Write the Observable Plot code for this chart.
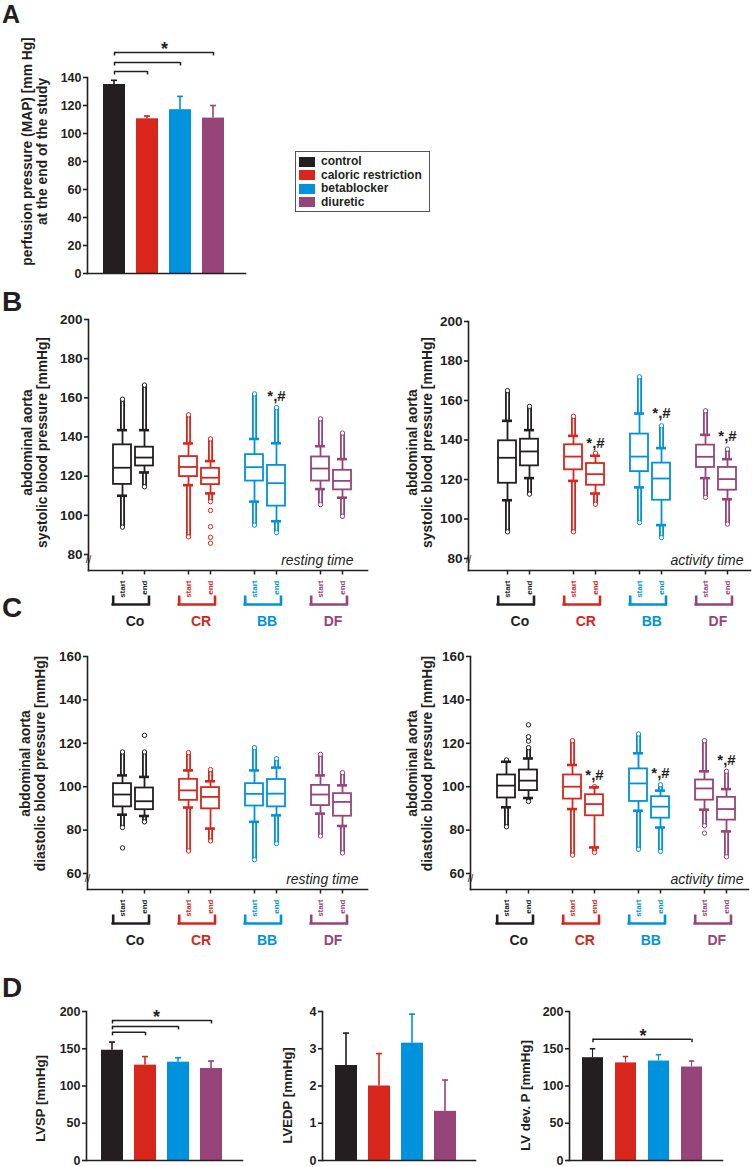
<!DOCTYPE html>
<html><head><meta charset="utf-8">
<script src="https://cdn.jsdelivr.net/npm/d3@7"></script>
<script src="https://cdn.jsdelivr.net/npm/@observablehq/plot@0.6"></script>
<style>
body{margin:0;background:#fff;}
#fig{position:relative;width:752px;height:1167px;overflow:hidden;font-family:"Liberation Sans",Arial,Helvetica,sans-serif;color:#231f20;}
.letter{position:absolute;font-weight:bold;line-height:1;}
#legend{position:absolute;left:295px;top:151px;width:133px;height:59px;border:1px solid #555;}
.lrow{position:absolute;left:3px;font-weight:bold;font-size:12px;line-height:1;white-space:nowrap;}
.lrow span.sw{display:inline-block;width:16px;height:10px;vertical-align:middle;margin-right:6px;}
</style></head><body><div id="fig"></div>
<script>
// ---------- data ----------
const groupNames = ["control", "caloric restriction", "betablocker", "diuretic"];
const groupAbbr = ["Co", "CR", "BB", "DF"];
const groupColors = ["#231f20", "#d9261c", "#0092dd", "#974478"];
const phases = ["start", "end"];

// Panel A: perfusion pressure (MAP) at end of study
const mapMean = [135, 110.5, 117, 111];
const mapSem = [3, 2, 9.5, 9];
const mapTicks = [0, 20, 40, 60, 80, 100, 120, 140];
const mapBrackets = [
  {to: "caloric restriction", level: 144.3},
  {to: "betablocker", level: 150.7},
  {to: "diuretic", level: 157.9}
];

// Box order: Co start, Co end, CR start, CR end, BB start, BB end, DF start, DF end
// Panel B left: systolic, resting time
const sysRest = {
  q3:  [136, 134.8, 130, 124, 131, 125.5, 129.8, 123],
  med: [124.3, 129.5, 124.7, 119.2, 124.6, 116.4, 123.9, 117.6],
  q1:  [115.8, 125.2, 119.8, 115.7, 117.5, 104.7, 117.5, 113],
  whi: [143.5, 143.5, 136.7, 127.7, 139, 136.8, 135.3, 128.7],
  wlo: [110, 121.9, 115.4, 111.2, 107, 97, 113.4, 109],
  ohi: [159.3, 166.5, 151.3, 139, 162, 155, 149.3, 142],
  olo: [94, 114.6, 89, 107, 95, 91.2, 105.5, 99.5]
};
const sysRestExtra = [{key: "CR end", v: 102.5}, {key: "CR end", v: 94.2}, {key: "CR end", v: 88.8}, {key: "CR end", v: 85.8}];
const sysRestNotes = [{key: "BB end", y: 158.6}];
// Panel B right: systolic, activity time
const sysAct = {
  q3:  [139.6, 140.4, 137.6, 128.1, 143, 128.3, 137.4, 126.1],
  med: [131, 134.2, 131.6, 122.7, 131.6, 120.5, 131.5, 120.2],
  q1:  [118.1, 126.9, 124.9, 117.1, 124, 109.5, 126.1, 114.6],
  whi: [149.7, 145, 142.1, 132, 153.4, 135.9, 142.6, 130.3],
  wlo: [109.5, 120.7, 119.3, 112.9, 116, 96.9, 120.7, 110],
  ohi: [165, 157, 152, 133.3, 172, 147.2, 154.8, 135.4],
  olo: [93.5, 112.6, 93.5, 107.5, 98.2, 90.6, 110.9, 97.4]
};
const sysActExtra = [];
const sysActNotes = [{key: "CR end", y: 136.2}, {key: "BB end", y: 150.9}, {key: "DF end", y: 139.7}];
// Panel C left: diastolic, resting time
const diaRest = {
  q3:  [101.4, 99.4, 103.4, 99.6, 101.4, 103.3, 100.6, 96.8],
  med: [96.4, 93.3, 98.3, 95.3, 96.7, 96.8, 96.4, 93],
  q1:  [90.7, 89.4, 93.7, 89.8, 91.1, 90.7, 91.3, 86.4],
  whi: [105.2, 104.5, 107.5, 102.5, 107.5, 108.8, 105.2, 100.6],
  wlo: [87.1, 86.5, 90.4, 80.7, 83.8, 86.8, 87.6, 81.9],
  ohi: [116, 116, 115.7, 107.9, 118, 112.9, 114.9, 106.5],
  olo: [81.2, 83.8, 70.4, 75, 66.4, 73.8, 77.3, 69.5]
};
const diaRestExtra = [{key: "Co start", v: 71.8}, {key: "Co end", v: 123.7}];
const diaRestNotes = [];
// Panel C right: diastolic, activity time
const diaAct = {
  q3:  [105.4, 107.7, 105.4, 96.3, 108.2, 95.4, 103.1, 95.1],
  med: [100.5, 102.8, 100, 92, 101.5, 90.8, 99.2, 89.7],
  q1:  [94.8, 98.2, 94.3, 86.6, 93.2, 85.5, 93.8, 84.6],
  whi: [111.5, 113, 110, 99.7, 115.4, 98.2, 107.1, 98.9],
  wlo: [90.5, 94.8, 89.7, 72, 88.9, 81.2, 89.4, 79.4],
  ohi: [112.3, 118, 121.2, 100, 124.3, 100.9, 121.2, 107.1],
  olo: [81.5, 93.2, 68.5, 69.7, 71.2, 70.2, 82, 67.7]
};
const diaActExtra = [{key: "Co end", v: 121}, {key: "Co end", v: 123}, {key: "Co end", v: 128.5}, {key: "DF start", v: 78.6}];
const diaActNotes = [{key: "CR end", y: 103.3}, {key: "BB end", y: 104.2}, {key: "DF end", y: 110.2}];

const sysTicks = [80, 100, 120, 140, 160, 180, 200];
const diaTicks = [60, 80, 100, 120, 140, 160];

// Panel D
const lvspMean = [148, 128, 132, 123.5];
const lvspSem = [11, 11.5, 6, 10];
const lvspTicks = [0, 50, 100, 150, 200];
const lvspBrackets = [
  {to: "caloric restriction", level: 172},
  {to: "betablocker", level: 180},
  {to: "diuretic", level: 188}
];
const lvedpMean = [2.55, 2.0, 3.15, 1.32];
const lvedpSem = [0.87, 0.87, 0.78, 0.84];
const lvedpTicks = [0, 1, 2, 3, 4];
const lvdevMean = [138, 131, 133.5, 125.5];
const lvdevSem = [12, 8.5, 8.5, 8];
const lvdevTicks = [0, 50, 100, 150, 200];
const lvdevBrackets = [{to: "diuretic", level: 162.7}];

// ---------- helpers ----------
const FONT = "'Liberation Sans', Arial, Helvetica, sans-serif";
const fig = document.getElementById("fig");
const baseStyle = {background: "transparent", overflow: "visible", fontFamily: FONT, fontWeight: "bold", color: "#231f20", maxWidth: "none"};
function place(node, left, top) {
  node.style.position = "absolute";
  node.style.left = left + "px";
  node.style.top = top + "px";
  fig.appendChild(node);
}
function letter(t, left, top, size) {
  const d = document.createElement("div");
  d.className = "letter"; d.textContent = t; d.style.fontSize = size + "px";
  d.style.left = left + "px"; d.style.top = top + "px";
  fig.appendChild(d);
}

const boxKeys = groupAbbr.flatMap(g => phases.map(p => g + " " + p));
const xDomain = groupAbbr.flatMap((g, i) => (i ? ["gap" + i] : []).concat(phases.map(p => g + " " + p)));
const groupRows = groupAbbr.map(g => ({group: g, s: g + " " + phases[0], e: g + " " + phases[1]}));

function boxPanel(o) {
  const st = o.stats;
  const rows = boxKeys.map((k, i) => ({key: k, group: k.split(" ")[0], phase: k.split(" ")[1],
    q1: st.q1[i], med: st.med[i], q3: st.q3[i], wlo: st.wlo[i], whi: st.whi[i], olo: st.olo[i], ohi: st.ohi[i]}));
  const extras = o.extras.map(e => ({...e, group: e.key.split(" ")[0]}));
  const frameMid = (o.yPx[1] + o.frameB) / 2;
  const colW = 5;
  const p = Plot.plot({
    width: o.width, height: o.height,
    marginLeft: o.frameL - o.left, marginRight: o.left + o.width - o.frameR,
    marginTop: o.yPx[1] - o.top, marginBottom: o.top + o.height - o.frameB,
    x: {type: "point", domain: xDomain, range: [o.xPx[0] - o.left, o.xPx[1] - o.left], axis: null},
    y: {domain: o.yDom, range: [o.yPx[0] - o.top, o.yPx[1] - o.top], axis: null},
    color: {domain: groupAbbr, range: groupColors},
    style: baseStyle,
    marks: [
      Plot.frame({anchor: "left", strokeWidth: 1.6, stroke: "#231f20"}),
      Plot.frame({anchor: "bottom", strokeWidth: 1.6, stroke: "#231f20"}),
      Plot.axisY(o.ticks, {tickSize: 4, tickPadding: 2, fontSize: 13.5, strokeWidth: 1.6, label: null}),
      Plot.text(["//"], {frameAnchor: "bottom-left", dy: -8, fontSize: 10, fontWeight: "normal", textAnchor: "middle"}),
      // outlier columns
      Plot.ruleX(rows, {x: "key", y1: "whi", y2: "ohi", stroke: "group", strokeWidth: colW}),
      Plot.ruleX(rows, {x: "key", y1: "wlo", y2: "olo", stroke: "group", strokeWidth: colW}),
      Plot.ruleX(rows, {x: "key", y1: "whi", y2: "ohi", stroke: "white", strokeWidth: 1.4}),
      Plot.ruleX(rows, {x: "key", y1: "wlo", y2: "olo", stroke: "white", strokeWidth: 1.4}),
      Plot.dot(rows, {x: "key", y: "ohi", r: 2.2, stroke: "group", fill: "white", strokeWidth: 1}),
      Plot.dot(rows, {x: "key", y: "olo", r: 2.2, stroke: "group", fill: "white", strokeWidth: 1}),
      Plot.dot(extras, {x: "key", y: "v", r: 2.2, stroke: "group", fill: "white", strokeWidth: 1}),
      // whiskers
      Plot.ruleX(rows, {x: "key", y1: "q3", y2: "whi", stroke: "group", strokeWidth: 1.8}),
      Plot.ruleX(rows, {x: "key", y1: "q1", y2: "wlo", stroke: "group", strokeWidth: 1.8}),
      Plot.ruleY(rows, {x1: "key", x2: "key", y: "whi", stroke: "group", strokeWidth: 2.6, insetLeft: -5, insetRight: -5}),
      Plot.ruleY(rows, {x1: "key", x2: "key", y: "wlo", stroke: "group", strokeWidth: 2.6, insetLeft: -5, insetRight: -5}),
      // boxes
      Plot.rect(rows, {x1: "key", x2: "key", y1: "q1", y2: "q3", fill: "white", stroke: "group", strokeWidth: 1.8, insetLeft: -9, insetRight: -9}),
      Plot.ruleY(rows, {x1: "key", x2: "key", y: "med", stroke: "group", strokeWidth: 1.8, insetLeft: -9, insetRight: -9}),
      // significance
      Plot.text(o.notes, {x: "key", y: "y", text: () => "*,#", fontSize: 15, lineAnchor: "bottom"}),
      Plot.text([o.note], {frameAnchor: "bottom-right", dx: o.noteDx, dy: -6, fontSize: 14, fontStyle: "italic", fontWeight: "normal", lineAnchor: "bottom", textAnchor: "end"}),
      Plot.text([o.ylabel], {frameAnchor: "left", dx: o.labelCx - o.frameL, dy: o.labelCy - frameMid, rotate: -90, fontSize: 13.8, lineHeight: 1.1, textAnchor: "middle", lineAnchor: "middle"})
    ]
  });
  place(p, o.left, o.top);

  // x-axis decoration: ticks, phase labels, group brackets
  const step = (o.xPx[1] - o.xPx[0]) / (xDomain.length - 1);
  const H = 62;
  const d = Plot.plot({
    width: o.width, height: H,
    marginLeft: o.frameL - o.left, marginRight: o.left + o.width - o.frameR, marginTop: 0, marginBottom: 0,
    x: {type: "point", domain: xDomain, range: [o.xPx[0] - o.left, o.xPx[1] - o.left], axis: null},
    y: {domain: [0, H], range: [0, H], axis: null},
    color: {domain: groupAbbr, range: groupColors},
    style: baseStyle,
    marks: [
      Plot.ruleX(rows, {x: "key", y1: 0, y2: 4.5, stroke: "#231f20", strokeWidth: 1.5}),
      Plot.text(rows, {x: "key", y: 10, text: "phase", rotate: -90, textAnchor: "end", fill: "group", fontSize: 8}),
      Plot.ruleY(groupRows, {x1: "s", x2: "e", y: 34, stroke: "group", strokeWidth: 2.6, insetLeft: -10.6, insetRight: -5.8}),
      Plot.ruleX(groupRows, {x: "s", y1: 25.5, y2: 35.3, dx: -9.3, stroke: "group", strokeWidth: 2.6}),
      Plot.ruleX(groupRows, {x: "e", y1: 25.5, y2: 35.3, dx: 4.5, stroke: "group", strokeWidth: 2.6}),
      Plot.text(groupRows, {x: "s", dx: step / 2, y: 51, text: "group", fill: "group", fontSize: 14})
    ]
  });
  place(d, o.left, o.frameB);
}

function barPanel(o) {
  const rows = groupNames.map((n, i) => ({name: n, v: o.vals[i], e: o.errs[i]}));
  const ends = o.brackets.flatMap(b => [{name: groupNames[0], level: b.level}, {name: b.to, level: b.level}]);
  const frameMid = (o.yPx[1] + o.yPx[0]) / 2;
  const starLevel = o.brackets.length ? d3.max(o.brackets, b => b.level) : null;
  const bw = o.bw, step = o.step;
  const marks = [
    Plot.barY(rows, {x: "name", y1: "v", y2: d => d.v + d.e, fill: "name", insetLeft: (bw - 1.6) / 2, insetRight: (bw - 1.6) / 2}),
    Plot.tickY(rows, {x: "name", y: d => d.v + d.e, stroke: "name", strokeWidth: 1.6, insetLeft: (bw - 6) / 2, insetRight: (bw - 6) / 2}),
    Plot.barY(rows, {x: "name", y: "v", fill: "name"}),
    Plot.axisY(o.ticks, {tickSize: 4, tickPadding: 2, fontSize: 12.5, strokeWidth: 1.6, label: null}),
    Plot.frame({anchor: "left", strokeWidth: 1.6, stroke: "#231f20"}),
    Plot.frame({anchor: "bottom", strokeWidth: 1.6, stroke: "#231f20"}),
    Plot.ruleY(o.brackets, {x1: () => groupNames[0], x2: "to", y: "level", insetLeft: bw / 2, insetRight: bw / 2, strokeWidth: 1.5, stroke: "#231f20"}),
    Plot.ruleX(ends, {x: "name", y1: "level", y2: "level", insetBottom: -3.5, strokeWidth: 1.5, stroke: "#231f20"}),
    Plot.text([o.ylabel], {frameAnchor: "left", dx: o.labelCx - o.axisX, dy: o.labelCy - frameMid, rotate: -90, fontSize: o.labelSize, lineHeight: 1.1, textAnchor: "middle", lineAnchor: "middle"})
  ];
  if (starLevel !== null) marks.push(Plot.text([starLevel], {x: () => groupNames[0], y: d => d, text: () => "*", dx: o.starDx, dy: 3, fontSize: 18, lineAnchor: "bottom"}));
  const p = Plot.plot({
    width: o.width, height: o.height,
    marginLeft: o.axisX - o.left, marginRight: o.left + o.width - o.baseEnd,
    marginTop: o.yPx[1] - o.top, marginBottom: o.top + o.height - o.yPx[0],
    x: {type: "band", domain: groupNames, range: [o.b0 - o.left, o.b0 - o.left + 3 * step + bw], paddingInner: 1 - bw / step, paddingOuter: 0, axis: null},
    y: {domain: o.yDom, axis: null},
    color: {domain: groupNames, range: groupColors},
    style: baseStyle,
    marks
  });
  place(p, o.left, o.top);
}

// ---------- panels ----------
letter("A", 2, 2, 25);
letter("B", 2, 288, 28);
letter("C", 2, 594, 28);
letter("D", 2, 974, 28);

barPanel({vals: mapMean, errs: mapSem, ticks: mapTicks, brackets: mapBrackets, yDom: [0, 140], yPx: [273, 77],
  left: 0, top: 30, width: 260, height: 250, axisX: 87, baseEnd: 245, b0: 102, step: 33.4, bw: 22, starDx: 50,
  ylabel: "perfusion pressure (MAP) [mm Hg]\nat the end of the study", labelCx: 34.5, labelCy: 151, labelSize: 13.8});

// legend
const lg = document.createElement("div"); lg.id = "legend";
groupNames.forEach((n, i) => {
  const r = document.createElement("div"); r.className = "lrow"; r.style.top = (3 + i * 13.5) + "px";
  const sw = document.createElement("span"); sw.className = "sw"; sw.style.background = groupColors[i];
  r.appendChild(sw); r.appendChild(document.createTextNode(n)); lg.appendChild(r);
});
fig.appendChild(lg);

boxPanel({stats: sysRest, extras: sysRestExtra, notes: sysRestNotes, note: "resting time", noteDx: -14,
  yDom: [80, 200], yPx: [554, 319], ticks: sysTicks, left: 0, top: 300, width: 376, height: 270,
  frameL: 88, frameR: 367, frameB: 570, xPx: [107, 357],
  ylabel: "abdominal aorta\nsystolic blood pressure [mmHg]", labelCx: 34.5, labelCy: 442});
boxPanel({stats: sysAct, extras: sysActExtra, notes: sysActNotes, note: "activity time", noteDx: -7,
  yDom: [80, 200], yPx: [558, 321], ticks: sysTicks, left: 376, top: 300, width: 376, height: 270,
  frameL: 468, frameR: 750, frameB: 570, xPx: [493, 740],
  ylabel: "abdominal aorta\nsystolic blood pressure [mmHg]", labelCx: 419.5, labelCy: 442});
boxPanel({stats: diaRest, extras: diaRestExtra, notes: diaRestNotes, note: "resting time", noteDx: -9,
  yDom: [60, 160], yPx: [873, 656], ticks: diaTicks, left: 0, top: 640, width: 376, height: 249,
  frameL: 87, frameR: 367, frameB: 889, xPx: [107, 357],
  ylabel: "abdominal aorta\ndiastolic blood pressure [mmHg]", labelCx: 32, labelCy: 763});
boxPanel({stats: diaAct, extras: diaActExtra, notes: diaActNotes, note: "activity time", noteDx: -5,
  yDom: [60, 160], yPx: [873, 656], ticks: diaTicks, left: 376, top: 640, width: 376, height: 249,
  frameL: 470, frameR: 748, frameB: 889, xPx: [493, 739],
  ylabel: "abdominal aorta\ndiastolic blood pressure [mmHg]", labelCx: 419.5, labelCy: 763});

barPanel({vals: lvspMean, errs: lvspSem, ticks: lvspTicks, brackets: lvspBrackets, yDom: [0, 200], yPx: [1160, 1011],
  left: 0, top: 995, width: 250, height: 172, axisX: 86, baseEnd: 242, b0: 100, step: 33.4, bw: 22, starDx: 44,
  ylabel: "LVSP [mmHg]", labelCx: 40, labelCy: 1098, labelSize: 13.2});
barPanel({vals: lvedpMean, errs: lvedpSem, ticks: lvedpTicks, brackets: [], yDom: [0, 4], yPx: [1160, 1011],
  left: 250, top: 995, width: 245, height: 172, axisX: 322, baseEnd: 475, b0: 334, step: 33.4, bw: 22, starDx: 0,
  ylabel: "LVEDP [mmHg]", labelCx: 287, labelCy: 1095, labelSize: 13.2});
barPanel({vals: lvdevMean, errs: lvdevSem, ticks: lvdevTicks, brackets: lvdevBrackets, yDom: [0, 200], yPx: [1160, 1011],
  left: 495, top: 995, width: 257, height: 172, axisX: 569, baseEnd: 722, b0: 581, step: 33.4, bw: 21.5, starDx: 50,
  ylabel: "LV dev. P [mmHg]", labelCx: 525, labelCy: 1095, labelSize: 13.2});
</script>
</body></html>
